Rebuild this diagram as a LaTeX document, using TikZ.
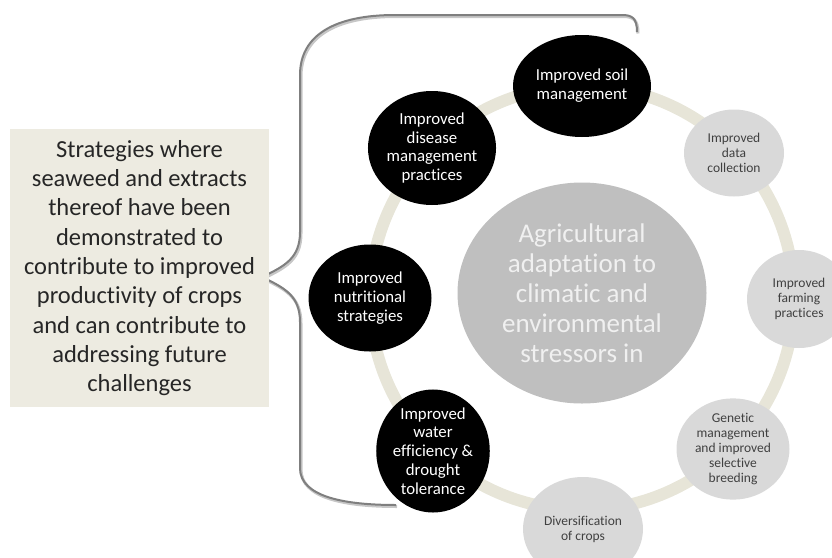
\documentclass[tikz,border=0pt]{standalone}
\usepackage{fontspec}
\setmainfont{Carlito}[RawFeature={-liga}]
\usetikzlibrary{
  positioning,
  shapes.geometric,
}
\definecolor{paper}{HTML}{EDEBE1}
\definecolor{ringc}{HTML}{E7E5D8}
\definecolor{hubc}{HTML}{BFBFBF}
\definecolor{lightc}{HTML}{D9D9D9}
\definecolor{bracec}{HTML}{7F7F7F}

\begin{document}
\begin{tikzpicture}[
      x=1pt, y=-1pt, % pixel coordinates, y going down
      every node/.style={
        align=center,
        inner sep=0pt,
      },
      dark/.style={ellipse,
        fill=black,
        text=white,
        font=\fontsize{16.8}{18.8}\selectfont,
      },
      light/.style={ellipse,
        fill=lightc,
        text=black!75,
        font=\fontsize{13.5}{15}\selectfont,
      },
      hub/.style={ellipse,
        fill=hubc,
        text=white!94!black,
        font=\fontsize{27}{30}\selectfont,
      },
      note/.style={
        fill=paper,
        text=black!85,
        font=\fontsize{24.5}{29.3}\selectfont,
      },
      ring/.style={draw=ringc, line width=12pt},
      brace/.style={draw=bracec, line width=2pt,
        preaction={draw=black!22, line width=3pt,
          transform canvas={shift={(1pt,-1.5pt)}}},
      },
      ]
      \useasboundingbox (0,0) rectangle (832,557);

      \coordinate (center) at (582,298);
      \draw[ring] (center) circle [radius=212];

      \node[hub, minimum width=249pt, minimum height=221pt] (adapt) at (582,293)
        {Agricultural\\adaptation to\\climatic and\\environmental\\stressors in};

      \node[dark, minimum width=138pt, minimum height=102pt] (soil) at (582,86)
        {Improved soil\\management};
      \node[dark, minimum width=128pt, minimum height=114pt] (disease) at (432,148)
        {Improved\\disease\\management\\practices};
      \node[dark, minimum width=123pt, minimum height=107pt] (nutrition) at (370,298)
        {Improved\\nutritional\\strategies};
      \node[dark, minimum width=112pt, minimum height=112pt] (water) at (433,451)
        {Improved\\water\\efficiency \&\\drought\\tolerance};

      \node[light, minimum width=100pt, minimum height=87pt] (data) at (734,153)
        {Improved\\data\\collection};
      \node[light, minimum width=104pt, minimum height=98pt] (farming) at (799,299)
        {Improved\\farming\\practices};
      \node[light, minimum width=113pt, minimum height=99pt] (genetic) at (733,449)
        {Genetic\\management\\and improved\\selective\\breeding};
      \node[light, minimum width=120pt, minimum height=104pt] (diversity) at (583,529)
        {Diversification\\of crops};

      % curly brace from the top circle down to the bottom one
      \coordinate (brace-top) at (637,32);
      \coordinate (brace-tip) at (262,277);
      \coordinate (brace-end) at (396,505);
      \draw[brace] (brace-top) .. controls (637,18) and (632,15) .. (622,15)
        -- (395,15) .. controls (335,15) and (300,35) .. (300,75)
        -- (300,232) .. controls (300,258) and (285,266) .. (brace-tip)
        .. controls (285,288) and (300,296) .. (300,322)
        -- (300,468) .. controls (300,497) and (345,505) .. (brace-end);

      \node[note, minimum width=259pt, minimum height=278pt] (strategies) at (139.5,268)
        {Strategies where\\seaweed and extracts\\thereof have been\\demonstrated to\\contribute to improved\\productivity of crops\\and can contribute to\\addressing future\\challenges};
    \end{tikzpicture}
\end{document}
